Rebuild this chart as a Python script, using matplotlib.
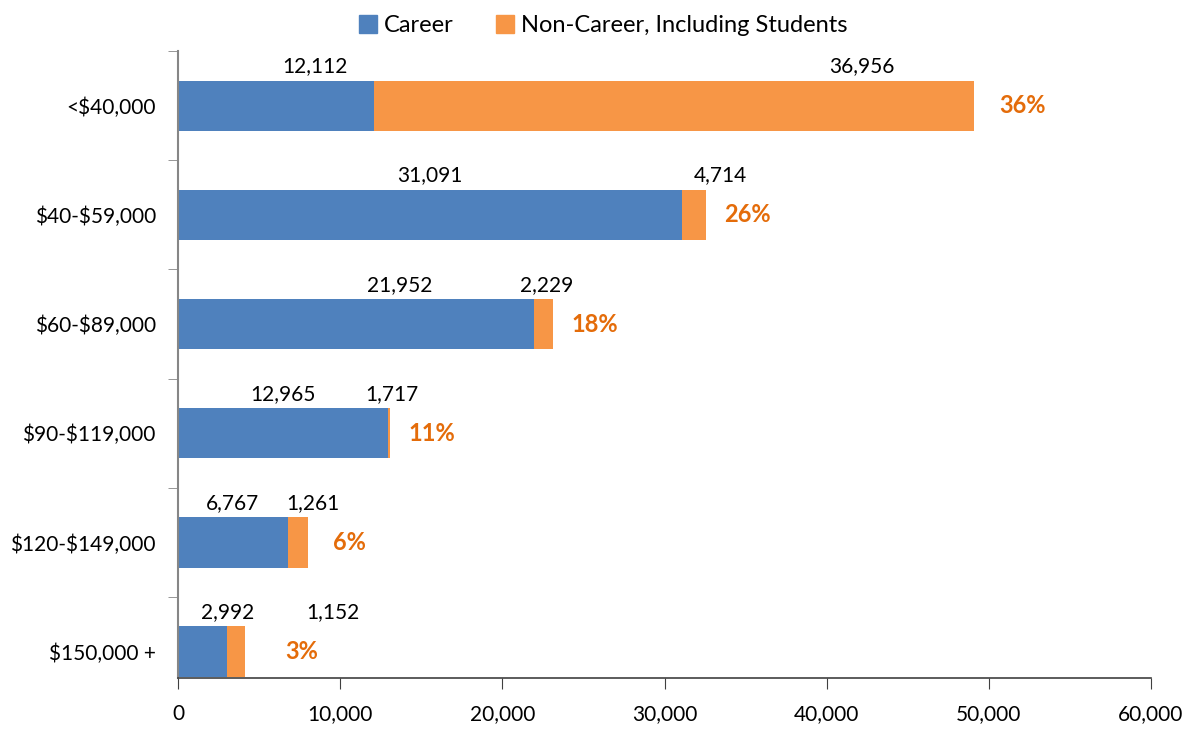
import numpy as np
import matplotlib.pyplot as plt
from matplotlib.patches import Patch

plt.rcParams["font.family"] = ["Lato", "DejaVu Sans"]
plt.rcParams["text.parse_math"] = False

categories = ["<$40,000", "$40-$59,000", "$60-$89,000", "$90-$119,000", "$120-$149,000", "$150,000 +"]
career = [12112, 31091, 21952, 12965, 6767, 2992]
# drawn lengths of the non-career segments as they appear in the chart
non_career_bar = [36956, 1450, 1190, 80, 1261, 1152]
# printed labels
career_labels = ["12,112", "31,091", "21,952", "12,965", "6,767", "2,992"]
non_career_labels = ["36,956", "4,714", "2,229", "1,717", "1,261", "1,152"]
pct_labels = ["36%", "26%", "18%", "11%", "6%", "3%"]

# layout: label x positions (data units) as placed in the original
career_label_x = [8450, 15540, 13690, 6470, 3330, 3080]
non_career_label_x = [42170, 33420, 22750, 13190, 8320, 9560]
pct_label_x = [52100, 35140, 25710, 15660, 10600, 7650]

BLUE = "#4F81BD"
ORANGE = "#F79646"
PCT = "#E46C0A"

fig = plt.figure(figsize=(11.94, 7.51), dpi=100)
ax = fig.add_axes([0.1491, 0.0972, 0.8149, 0.8348])

y = np.arange(len(categories))
h = 0.46
ax.barh(y, career, height=h, color=BLUE, label="Career")
ax.barh(y, non_career_bar, left=career, height=h, color=ORANGE,
        label="Non-Career, Including Students")

for i in range(len(categories)):
    ly = y[i] - 0.36
    ax.text(career_label_x[i], ly, career_labels[i], ha="center", va="center", fontsize=15)
    ax.text(non_career_label_x[i], ly, non_career_labels[i], ha="center", va="center", fontsize=15)
    ax.text(pct_label_x[i], y[i], pct_labels[i], ha="center", va="center",
            fontsize=17, fontweight="bold", color=PCT)

ax.set_xlim(0, 60000)
ax.set_ylim(5.242, -0.5)
ax.set_xticks(np.arange(0, 60001, 10000))
ax.set_xticklabels([f"{v:,}" for v in range(0, 60001, 10000)], fontsize=15)
ax.set_yticks(y)
ax.set_yticklabels(categories, fontsize=15)
ax.set_yticks(np.arange(-0.5, 5.0, 1.0), minor=True)
ax.tick_params(axis="y", which="major", length=0, pad=16)
ax.tick_params(axis="y", which="minor", length=7, color="#868686", direction="out")
ax.tick_params(axis="x", length=8, color="#404040", direction="out", pad=11)

for s in ["top", "right"]:
    ax.spines[s].set_visible(False)
ax.spines["left"].set_color("#868686")
ax.spines["left"].set_linewidth(1.5)
ax.spines["bottom"].set_color("#404040")
ax.spines["bottom"].set_linewidth(1.2)

handles = [Patch(color=BLUE, label="Career"),
           Patch(color=ORANGE, label="Non-Career, Including Students")]
fig.legend(handles=handles, loc="upper center", bbox_to_anchor=(0.505, 1.008), ncol=2,
           frameon=False, fontsize=17, handlelength=0.75, handleheight=0.75,
           handletextpad=0.3, columnspacing=1.8)

fig.savefig("out.png", dpi=100)
